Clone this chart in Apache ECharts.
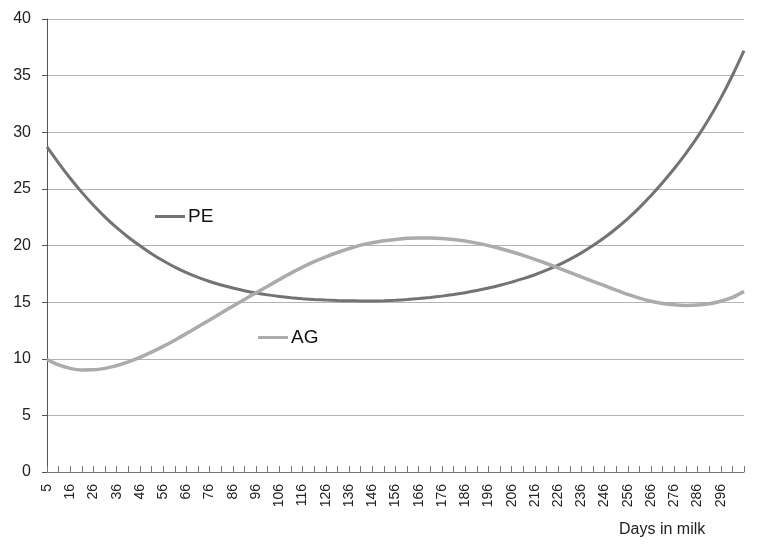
<!DOCTYPE html>
<html>
<head>
<meta charset="utf-8">
<script src="https://cdn.jsdelivr.net/npm/echarts@6/dist/echarts.min.js"></script>
<style>
html,body{margin:0;padding:0;background:#fff;}
#chart{width:763px;height:551px;}
</style>
</head>
<body>
<div id="chart"></div>
<script>
var days = [5,11,16,21,26,31,36,41,46,51,56,61,66,71,76,81,86,91,96,101,106,111,116,121,126,131,136,141,146,151,156,161,166,171,176,181,186,191,196,201,206,211,216,221,226,231,236,241,246,251,256,261,266,271,276,281,286,291,296,301,306];
var pe = [28.7,27.28,25.94,24.69,23.55,22.51,21.57,20.73,19.98,19.28,18.65,18.09,17.6,17.18,16.82,16.51,16.24,16.01,15.81,15.64,15.5,15.39,15.3,15.23,15.18,15.14,15.12,15.11,15.11,15.13,15.17,15.23,15.31,15.41,15.53,15.67,15.83,16.02,16.24,16.49,16.77,17.07,17.42,17.82,18.27,18.78,19.35,19.99,20.7,21.5,22.38,23.35,24.41,25.56,26.8,28.14,29.59,31.21,33.01,35.01,37.21];
var ag = [9.93,9.45,9.15,9.01,9.02,9.15,9.39,9.72,10.12,10.58,11.09,11.64,12.22,12.82,13.43,14.04,14.64,15.24,15.83,16.41,16.99,17.56,18.09,18.57,19.0,19.38,19.72,20.03,20.25,20.42,20.54,20.63,20.67,20.66,20.61,20.52,20.39,20.21,19.99,19.74,19.45,19.13,18.78,18.41,18.02,17.62,17.22,16.83,16.46,16.06,15.68,15.35,15.08,14.88,14.76,14.71,14.74,14.86,15.08,15.41,15.95];
var yTicks = [0,5,10,15,20,25,30,35,40];
var xTitle = 'Days in milk';

var chart = echarts.init(document.getElementById('chart'), null, {renderer:'canvas'});
var font = 'Liberation Sans';
chart.setOption({
  animation:false,
  backgroundColor:'#ffffff',
  title:{text:xTitle,left:619,top:522,padding:0,textStyle:{fontFamily:font,fontSize:16,fontWeight:'normal',color:'#222'}},
  legend:[
    {data:['PE'],left:155,top:207,padding:0,itemWidth:30,itemHeight:3,icon:'rect',textStyle:{fontFamily:font,fontSize:19,color:'#111',padding:[0,0,0,-2]}},
    {data:['AG'],left:258,top:328,padding:0,itemWidth:30,itemHeight:3,icon:'rect',textStyle:{fontFamily:font,fontSize:19,color:'#111',padding:[0,0,0,-2]}}
  ],
  grid:{left:47,right:19,top:19,bottom:79,containLabel:false},
  xAxis:{
    type:'category',data:days,boundaryGap:false,
    axisLine:{show:true,lineStyle:{color:'#777',width:1}},
    axisTick:{show:true,inside:true,length:6,interval:0,lineStyle:{color:'#777'}},
    axisLabel:{rotate:90,margin:12,fontFamily:font,fontSize:14,color:'#222',
      interval:function(i){return i%2===0 && i<60;}},
    splitLine:{show:false}
  },
  yAxis:{
    type:'value',min:yTicks[0],max:yTicks[yTicks.length-1],interval:5,
    axisLine:{show:true,lineStyle:{color:'#555',width:1}},
    axisTick:{show:true,length:5,lineStyle:{color:'#555'}},
    axisLabel:{margin:16,fontFamily:font,fontSize:16,color:'#222'},
    splitLine:{show:true,lineStyle:{color:'#b3b3b3',width:1}}
  },
  series:[
    {name:'PE',type:'line',data:pe,showSymbol:false,symbol:'none',smooth:0.3,color:'#737373',lineStyle:{width:3,color:'#737373'}},
    {name:'AG',type:'line',data:ag,showSymbol:false,symbol:'none',smooth:0.3,color:'#ababab',lineStyle:{width:3.5,color:'#ababab'}}
  ]
});
</script>
</body>
</html>
